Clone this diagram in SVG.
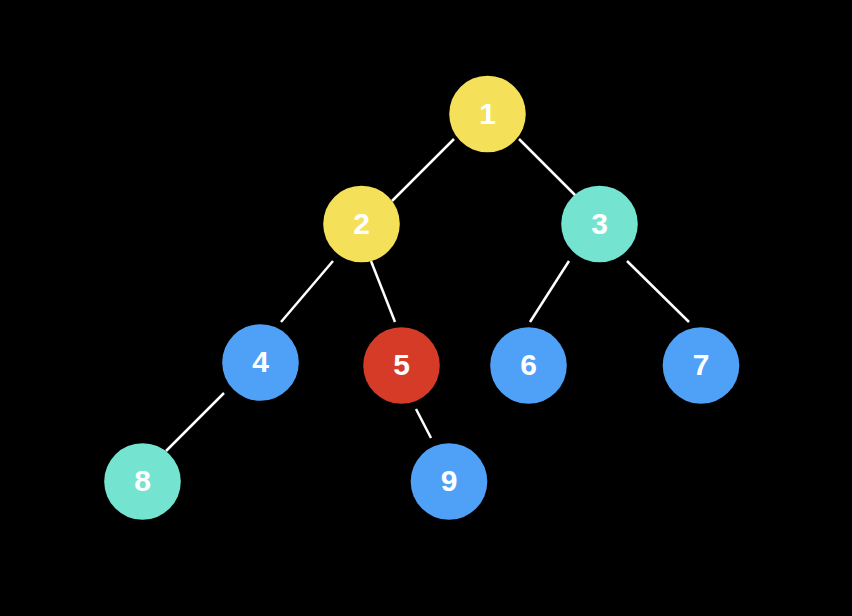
<svg xmlns="http://www.w3.org/2000/svg" width="852" height="616" viewBox="0 0 852 616">
<style>
.n circle{stroke:none}
.y{fill:#F5E05A}.t{fill:#74E4D1}.b{fill:#4FA1F8}.r{fill:#D63B27}
.n text{font-family:"Liberation Sans",Arial,sans-serif;font-weight:bold;font-size:30px;fill:#fff;text-anchor:middle;dominant-baseline:central}
.e line{stroke:#fff;stroke-width:2.5}
</style>
<rect width="852" height="616" fill="#000"/>
<g id="edges" class="e">
<line x1="454" y1="139" x2="392" y2="201"/>
<line x1="519" y1="139" x2="581" y2="201"/>
<line x1="333" y1="261" x2="281" y2="322"/>
<line x1="371" y1="261" x2="395" y2="322"/>
<line x1="569" y1="261" x2="530" y2="322"/>
<line x1="627" y1="261" x2="689" y2="322"/>
<line x1="224" y1="393" x2="166" y2="451"/>
<line x1="416" y1="409" x2="431" y2="438"/>
</g>
<g id="n1" class="n"><circle class="y" cx="487.5" cy="114" r="38.3"/><text x="487.5" y="113">1</text></g>
<g id="n2" class="n"><circle class="y" cx="361.5" cy="224" r="38.3"/><text x="361.5" y="223">2</text></g>
<g id="n3" class="n"><circle class="t" cx="599.5" cy="224" r="38.3"/><text x="599.5" y="223">3</text></g>
<g id="n4" class="n"><circle class="b" cx="260.5" cy="362.5" r="38.3"/><text x="260.5" y="361">4</text></g>
<g id="n5" class="n"><circle class="r" cx="401.5" cy="365.5" r="38.3"/><text x="401.5" y="364.5">5</text></g>
<g id="n6" class="n"><circle class="b" cx="528.5" cy="365.5" r="38.3"/><text x="528.5" y="364.5">6</text></g>
<g id="n7" class="n"><circle class="b" cx="701" cy="365.5" r="38.3"/><text x="701" y="364.5">7</text></g>
<g id="n8" class="n"><circle class="t" cx="142.5" cy="481.5" r="38.3"/><text x="142.5" y="480.5">8</text></g>
<g id="n9" class="n"><circle class="b" cx="449" cy="481.5" r="38.3"/><text x="449" y="480.5">9</text></g>
</svg>
